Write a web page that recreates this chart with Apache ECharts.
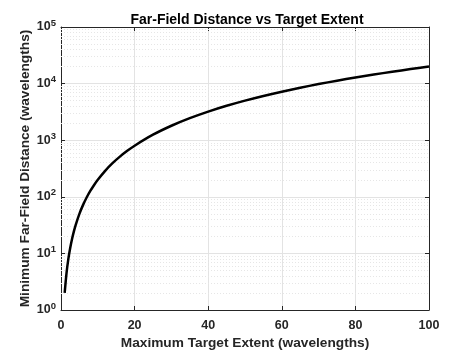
<!DOCTYPE html>
<html><head><meta charset="utf-8">
<script src="https://cdn.jsdelivr.net/npm/echarts@6/dist/echarts.min.js"></script>
<style>html,body{margin:0;padding:0;background:#fff}#c{width:474px;height:355px}</style>
</head><body><div id="c"></div>
<script>
const titleText = 'Far-Field Distance vs Target Extent';
const xLabel = 'Maximum Target Extent (wavelengths)';
const yLabel = 'Minimum Far-Field Distance (wavelengths)';
const xTicks = [0, 20, 40, 60, 80, 100];
const yDecades = [1, 10, 100, 1000, 10000, 100000];
const extent = [1, 1.5, 2, 2.5, 3, 3.5, 4, 5, 6, 7, 8, 9, 10, 12, 14, 16, 18, 20, 25, 30, 35, 40, 45, 50, 55, 60, 65, 70, 75, 80, 85, 90, 95, 100];
const distance = [2, 4.5, 8, 12.5, 18, 24.5, 32, 50, 72, 98, 128, 162, 200, 288, 392, 512, 648, 800, 1250, 1800, 2450, 3200, 4050, 5000, 6050, 7200, 8450, 9800, 11250, 12800, 14450, 16200, 18050, 20000];
const minorMult = [2, 3, 4, 5, 6, 7, 8, 9];

const font = 'Liberation Sans, Arial, sans-serif';
const minorLines = [];
yDecades.slice(0, -1).forEach(d => minorMult.forEach(m => minorLines.push({ yAxis: d * m })));

const chart = echarts.init(document.getElementById('c'));
const ylab = v => {
  const e = Math.round(Math.log10(v));
  return '{b|10}{s|' + e + '}';
};
const rich = {
  b: { fontFamily: font, fontWeight: 'bold', fontSize: 12.5, color: '#262626' },
  s: { fontFamily: font, fontWeight: 'bold', fontSize: 9.5, color: '#262626', padding: [0, 0, 8, 0] }
};
chart.setOption({
  animation: false,
  title: { text: titleText, left: 242, textAlign: 'center', top: 8,
    textStyle: { fontFamily: font, fontWeight: 'bold', fontSize: 14, color: '#000' } },
  grid: { left: 61, right: 45, top: 27, bottom: 40 },
  xAxis: [{
    type: 'value', min: 0, max: 100, interval: 20, position: 'bottom',
    name: xLabel, nameLocation: 'middle', nameGap: 26, nameMoveOverlap: false,
    nameTextStyle: { fontFamily: font, fontWeight: 'bold', fontSize: 13.7, color: '#262626' },
    axisLine: { onZero: false, lineStyle: { color: '#262626', width: 1 } },
    axisTick: { inside: true, length: 4, lineStyle: { color: '#262626' } },
    axisLabel: { fontFamily: font, fontWeight: 'bold', fontSize: 12.5, color: '#262626', margin: 9 },
    splitLine: { show: true, lineStyle: { color: '#e3e3e3', width: 1 } }
  }, {
    type: 'value', min: 0, max: 100, interval: 20, position: 'top',
    axisLine: { onZero: false, lineStyle: { color: '#262626', width: 1 } },
    axisTick: { inside: true, length: 4, lineStyle: { color: '#262626' } },
    axisLabel: { show: false }, splitLine: { show: false }
  }],
  yAxis: [{
    type: 'log', logBase: 10, min: 1, max: 100000, position: 'left',
    name: yLabel, nameLocation: 'middle', nameGap: 29, nameRotate: 90, nameMoveOverlap: false,
    nameTextStyle: { fontFamily: font, fontWeight: 'bold', fontSize: 13.7, color: '#262626' },
    axisLine: { onZero: false, lineStyle: { color: '#262626', width: 1 } },
    axisTick: { inside: true, length: 4, lineStyle: { color: '#262626' } },
    axisLabel: { formatter: ylab, rich: rich, margin: 5 },
    splitLine: { show: true, lineStyle: { color: '#e3e3e3', width: 1 } }
  }, {
    type: 'log', logBase: 10, min: 1, max: 100000, position: 'right',
    axisLine: { onZero: false, lineStyle: { color: '#262626', width: 1 } },
    axisTick: { inside: true, length: 4, lineStyle: { color: '#262626' } },
    axisLabel: { show: false }, splitLine: { show: false }
  }],
  series: [{
    type: 'line', xAxisIndex: 0, yAxisIndex: 0,
    data: extent.map((x, i) => [x, distance[i]]),
    showSymbol: false, smooth: 0.3,
    lineStyle: { color: '#000', width: 2.5 },
    z: 5,
    markLine: {
      silent: true, symbol: 'none', label: { show: false },
      lineStyle: { color: '#e6e6e6', type: [1, 2], width: 1 },
      data: minorLines, animation: false
    }
  }]
});
</script></body></html>
